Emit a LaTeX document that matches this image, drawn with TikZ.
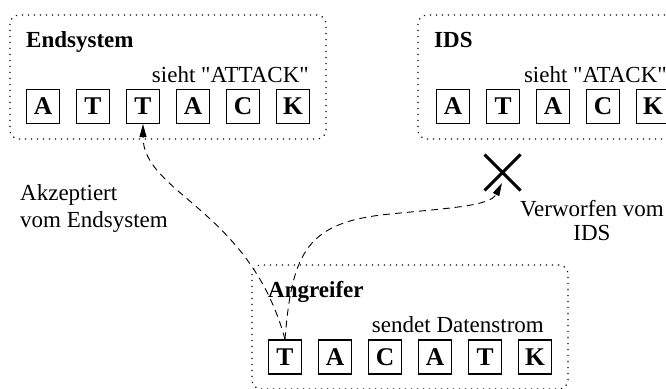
\documentclass[tikz,border=0pt]{standalone}
\usepackage{fontspec}
\setmainfont{Liberation Serif}[Ligatures=TeXOff]
\usetikzlibrary{arrows.meta,shapes.misc}
\begin{document}
\begin{tikzpicture}[x=1pt,y=-1pt,
  font=\fontsize{23}{27.3}\selectfont,
  groupbox/.style={draw, line width=1.2pt, dash pattern=on 1.2pt off 4.8pt,
    rounded corners=9pt, inner sep=0pt, minimum height=124pt},
  letterbox/.style={draw, line width=1.1pt, minimum width=33pt, minimum height=34pt,
    inner sep=0pt, font=\fontsize{25.5}{27}\selectfont\bfseries},
  title/.style={anchor=base west, inner sep=0pt, font=\fontsize{23}{27}\selectfont\bfseries},
  caption/.style={anchor=base east, inner sep=0pt},
  flow/.style={line width=0.9pt, dash pattern=on 7pt off 5pt},
  tip/.style={-{Triangle[length=13pt,width=7pt]}},
  dropmark/.style={draw, cross out, line width=3pt, minimum size=33pt, inner sep=0pt},
]
\useasboundingbox (0,0) rectangle (666,388);
\clip (0,0) rectangle (666,388);

% end system
\node[groupbox, minimum width=316pt] (endsys) at (168,77) {};
\node[title] (endsysT) at (26,47.7) {Endsystem};
\node[caption] (endsysC) at (309,82.7) {sieht "ATTACK"};
\foreach \c [count=\i] in {A,T,T,A,C,K}
  \node[letterbox] (e\i) at ({-7+50*\i},106.5) {\c};

% intrusion detection system
\node[groupbox, minimum width=268pt] (ids) at (552,77) {};
\node[title] (idsT) at (434,47.7) {IDS};
\node[caption] (idsC) at (667,82.7) {sieht "ATACK"};
\foreach \c [count=\i] in {A,T,A,C,K}
  \node[letterbox] (i\i) at ({403+50*\i},106.5) {\c};

% attacker
\node[groupbox, minimum width=316pt] (att) at (410,327) {};
\node[title] (attT) at (268,297.7) {Angreifer};
\node[caption] (attC) at (544,332.7) {sendet Datenstrom};
\foreach \c [count=\i] in {T,A,C,A,T,K}
  \node[letterbox] (a\i) at ({235+50*\i},357) {\c};

% dropped segment
\node[dropmark] (drop) at (502.5,172.5) {};
\coordinate (hit) at (502,183);

% paths of the segment
\draw[flow, tip] (a1.north) .. controls (250,210) and (143,193) .. (e3.south);
\draw[flow, tip] (a1.north) .. controls (292,250) and (308,222) .. (390,214)
  .. controls (450,208) and (490,206) .. (hit);

% labels
\node[anchor=west, align=left, inner sep=0pt] (acc) at (20,208.3)
  {Akzeptiert\\vom Endsystem};
\node[align=center, inner sep=0pt] (rej) at (592,220.6)
  {Verworfen vom\\[-4pt]IDS};
\end{tikzpicture}
\end{document}
